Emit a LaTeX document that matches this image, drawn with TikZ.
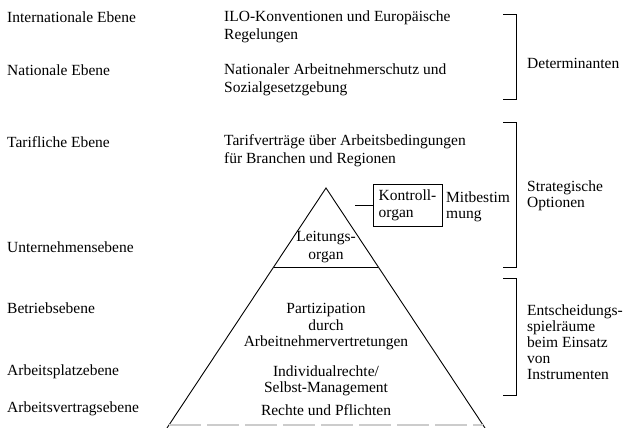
\documentclass[tikz,border=0pt]{standalone}
\usepackage{fontspec}
\setmainfont{Liberation Serif}
\usetikzlibrary{calc}
\begin{document}
\begin{tikzpicture}[x=1pt,y=-1pt,
  every node/.style={inner sep=0pt, font=\fontsize{15.5}{18}\selectfont},
  lbl/.style={anchor=west, align=left},
  pyr/.style={align=center},
  ln/.style={line width=0.9pt},
  brk/.style={line width=1pt},
  box/.style={draw, line width=0.9pt, minimum width=69pt, minimum height=42pt, align=left},
]
\useasboundingbox (0,0) rectangle (625,428);

% left level labels
\node[lbl] (l1) at (7,17) {Internationale Ebene};
\node[lbl] (l2) at (7,70) {Nationale Ebene};
\node[lbl] (l3) at (7,142) {Tarifliche Ebene};
\node[lbl] (l4) at (7,247) {Unternehmensebene};
\node[lbl] (l5) at (7,308) {Betriebsebene};
\node[lbl] (l6) at (7,372) {Arbeitsplatzebene};
\node[lbl] (l7) at (7,409) {Arbeitsvertragsebene};

% middle texts
\node[lbl] (m1) at (224,27) {ILO-Konventionen und Europäische\\Regelungen};
\node[lbl] (m2) at (224,80) {Nationaler Arbeitnehmerschutz und\\Sozialgesetzgebung};
\node[lbl] (m3) at (224,151) {Tarifverträge über Arbeitsbedingungen\\für Branchen und Regionen};

% pyramid
\coordinate (apex) at (326,188);
\coordinate (bl) at (167,428);
\coordinate (br) at (485,428);
\draw[ln] (bl) -- (apex) -- (br);
\coordinate (hl) at ($(apex)!0.329!(bl)$);
\coordinate (hr) at ($(apex)!0.329!(br)$);
\draw[ln] (hl) -- (hr);
\draw[gray!40, line width=1.2pt, dash pattern=on 32pt off 6pt] (169,425) -- (483,425);

\node[pyr] (p1) at (326,247) {Leitungs-\\organ};
\node[pyr, font=\fontsize{15.5}{16.5}\selectfont] (p2) at (326,327) {Partizipation\\durch\\Arbeitnehmervertretungen};
\node[pyr, font=\fontsize{15.5}{16.5}\selectfont] (p3) at (326,381) {Individualrechte/\\Selbst-Management};
\node[pyr] (p4) at (326,410) {Rechte und Pflichten};

% Kontrollorgan
\node[box, font=\fontsize{15.5}{17}\selectfont] (ko) at (407.5,205) {Kontroll-\\organ};
\coordinate (kl) at (355,205);
\draw[ln] (kl) -- (ko.west);
\node[lbl, font=\fontsize{15.5}{16}\selectfont] (mb) at (446,207) {Mitbestim\\mung};

% brackets
\draw[brk] (503,15) -- (516,15) -- (516,100) -- (503,100);
\draw[brk] (503,123) -- (516,123) -- (516,267) -- (503,267);
\draw[brk] (503,278) -- (516,278) -- (516,395) -- (503,395);

% right labels
\node[lbl] (r1) at (527,63) {Determinanten};
\node[lbl, font=\fontsize{15.5}{16.5}\selectfont] (r2) at (527,196) {Strategische\\Optionen};
\node[lbl, font=\fontsize{15.5}{16}\selectfont] (r3) at (527,342) {Entscheidungs-\\spielräume\\beim Einsatz\\von\\Instrumenten};
\end{tikzpicture}
\end{document}
